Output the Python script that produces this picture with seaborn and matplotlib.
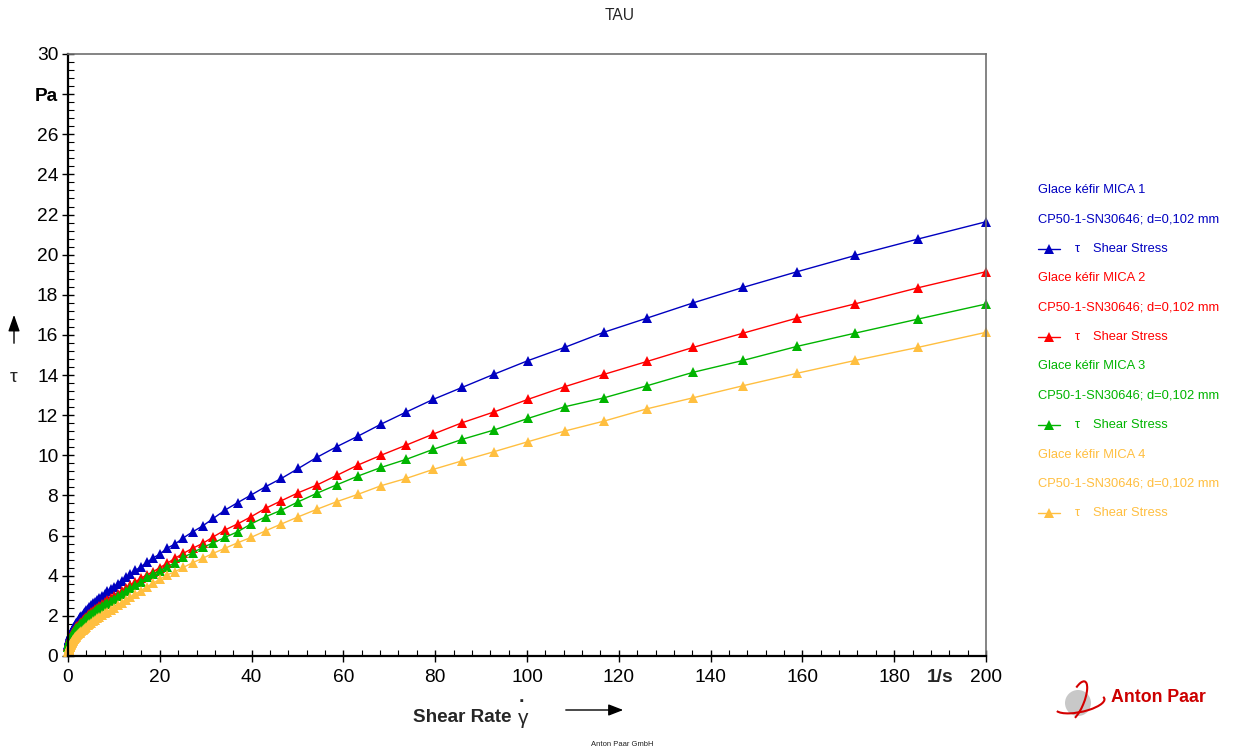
import numpy as np
import pandas as pd
import matplotlib
matplotlib.use("Agg")
import matplotlib.pyplot as plt
import seaborn as sns
from matplotlib.lines import Line2D
from matplotlib.patches import Circle, Arc, FancyArrowPatch

# shear rate [1/s]
shear_rate = [
    0.1, 0.108, 0.1166, 0.1259, 0.1359, 0.1468, 0.1585, 0.1712, 0.1848, 0.1996,
    0.2155, 0.2327, 0.2513, 0.2713, 0.293, 0.3164, 0.3416, 0.3689, 0.3983, 0.4301,
    0.4644, 0.5015, 0.5415, 0.5847, 0.6314, 0.6818, 0.7362, 0.795, 0.8584, 0.9268,
    1.0007, 1.0806, 1.1668, 1.2599, 1.3605, 1.4691, 1.5863, 1.7129, 1.8496, 1.9972,
    2.1565, 2.3286, 2.5144, 2.715, 2.9316, 3.1658, 3.4184, 3.6912, 3.9857, 4.3037,
    4.6471, 5.018, 5.4184, 5.8507, 6.3176, 6.8217, 7.3659, 7.9537, 8.5884, 9.2737,
    10.015, 10.814, 11.677, 12.608, 13.614, 14.7, 15.873, 17.14, 18.507, 19.984,
    21.579, 23.3, 25.16, 27.167, 29.335, 31.676, 34.203, 36.932, 39.879, 43.061,
    46.497, 50.207, 54.213, 58.538, 63.209, 68.253, 73.699, 79.579, 85.929, 92.786,
    100.22, 108.21, 116.84, 126.17, 136.23, 147.1, 158.84, 171.51, 185.19, 200.0,
]

# shear stress [Pa]
tau_mica1 = [
    .560, .575, .591, .607, .624, .641, .659, .677, .695, .714,
    .734, .754, .775, .796, .818, .840, .865, .890, .917, .944,
    .971, 1.000, 1.030, 1.060, 1.091, 1.124, 1.157, 1.191, 1.226, 1.263,
    1.300, 1.341, 1.382, 1.425, 1.470, 1.516, 1.563, 1.611, 1.662, 1.713,
    1.767, 1.822, 1.879, 1.937, 1.997, 2.060, 2.132, 2.207, 2.284, 2.364,
    2.446, 2.532, 2.620, 2.712, 2.807, 2.905, 3.007, 3.112, 3.221, 3.333,
    3.450, 3.600, 3.756, 3.918, 4.088, 4.265, 4.45, 4.66, 4.88, 5.08,
    5.37, 5.58, 5.89, 6.19, 6.48, 6.86, 7.27, 7.64, 8.02, 8.44,
    8.85, 9.35, 9.90, 10.43, 10.96, 11.56, 12.16, 12.79, 13.39, 14.04,
    14.72, 15.38, 16.14, 16.84, 17.60, 18.37, 19.15, 19.96, 20.78, 21.64,
]
tau_mica2 = [
    .480, .493, .507, .521, .535, .550, .565, .580, .596, .612,
    .629, .646, .664, .682, .701, .720, .742, .764, .786, .810,
    .834, .859, .885, .911, .938, .966, .995, 1.025, 1.056, 1.087,
    1.120, 1.155, 1.190, 1.227, 1.265, 1.304, 1.345, 1.386, 1.429, 1.474,
    1.519, 1.566, 1.615, 1.665, 1.716, 1.770, 1.832, 1.896, 1.963, 2.032,
    2.103, 2.177, 2.253, 2.332, 2.414, 2.499, 2.587, 2.678, 2.772, 2.869,
    2.970, 3.104, 3.244, 3.390, 3.543, 3.703, 3.87, 4.04, 4.20, 4.40,
    4.62, 4.87, 5.12, 5.37, 5.61, 5.94, 6.28, 6.58, 6.94, 7.36,
    7.74, 8.14, 8.52, 9.00, 9.52, 10.01, 10.51, 11.06, 11.63, 12.16,
    12.79, 13.42, 14.04, 14.68, 15.38, 16.09, 16.84, 17.55, 18.35, 19.15,
]
tau_mica3 = [
    .460, .473, .486, .500, .515, .529, .544, .560, .576, .592,
    .609, .626, .644, .662, .681, .700, .721, .742, .763, .786,
    .809, .832, .857, .882, .908, .934, .962, .990, 1.019, 1.049,
    1.080, 1.113, 1.147, 1.183, 1.219, 1.256, 1.295, 1.335, 1.376, 1.418,
    1.462, 1.507, 1.553, 1.601, 1.650, 1.700, 1.760, 1.821, 1.885, 1.951,
    2.020, 2.090, 2.164, 2.240, 2.318, 2.399, 2.484, 2.571, 2.661, 2.754,
    2.850, 2.977, 3.109, 3.247, 3.392, 3.542, 3.70, 3.92, 4.09, 4.25,
    4.45, 4.65, 4.92, 5.15, 5.41, 5.64, 5.91, 6.19, 6.58, 6.94,
    7.27, 7.69, 8.11, 8.53, 8.97, 9.40, 9.80, 10.30, 10.80, 11.26,
    11.84, 12.42, 12.87, 13.47, 14.14, 14.73, 15.43, 16.09, 16.79, 17.54,
]
tau_mica4 = [
    .220, .230, .240, .250, .261, .273, .285, .297, .310, .324,
    .338, .353, .368, .385, .402, .420, .437, .454, .472, .490,
    .510, .530, .551, .572, .595, .618, .643, .668, .694, .722,
    .750, .778, .807, .837, .869, .901, .935, .970, 1.006, 1.044,
    1.083, 1.123, 1.165, 1.209, 1.254, 1.300, 1.354, 1.411, 1.470, 1.531,
    1.595, 1.661, 1.731, 1.803, 1.878, 1.957, 2.038, 2.123, 2.212, 2.304,
    2.400, 2.524, 2.655, 2.793, 2.938, 3.090, 3.25, 3.45, 3.62, 3.82,
    4.04, 4.20, 4.42, 4.65, 4.87, 5.12, 5.37, 5.64, 5.91, 6.24,
    6.58, 6.94, 7.31, 7.69, 8.06, 8.49, 8.85, 9.30, 9.73, 10.18,
    10.68, 11.21, 11.71, 12.32, 12.87, 13.47, 14.09, 14.73, 15.38, 16.13,
]

samples = ["Glace kéfir MICA 1", "Glace kéfir MICA 2", "Glace kéfir MICA 3", "Glace kéfir MICA 4"]
series = [tau_mica1, tau_mica2, tau_mica3, tau_mica4]
colors = ["#0000C0", "#FF0000", "#00B400", "#FFBF40"]
geometry = "CP50-1-SN30646; d=0,102 mm"

x_ticks = list(range(0, 201, 20))
y_ticks = list(range(0, 31, 2))

df = pd.concat(
    [pd.DataFrame({"rate": shear_rate, "tau": s, "sample": name}) for name, s in zip(samples, series)],
    ignore_index=True,
)

sns.set_style("white")
plt.rcParams["font.family"] = ["Liberation Sans", "DejaVu Sans"]

W, H = 1234, 751
fig = plt.figure(figsize=(W / 100, H / 100), dpi=100)


def fx(px):
    return px / W


def fy(py):
    return 1 - py / H


ax = fig.add_axes([fx(68), fy(656), fx(986) - fx(68), fy(54) - fy(656)])

sns.lineplot(
    data=df, x="rate", y="tau", hue="sample", palette=dict(zip(samples, colors)),
    estimator=None, sort=False, legend=False, ax=ax,
    marker="^", markersize=6.8, markeredgewidth=0, linewidth=1.0, clip_on=False,
)

ax.set_xlim(0, 200)
ax.set_ylim(0, 30)
ax.set_xlabel("")
ax.set_ylabel("")

ax.set_xticks(x_ticks)
ax.set_xticks(np.arange(0, 201, 4), minor=True)
ax.set_yticks(y_ticks)
ax.set_yticks(np.arange(0, 30.01, 0.4), minor=True)
ax.set_xticklabels([str(v) for v in x_ticks], fontsize=13.8)
ax.set_yticklabels(["Pa" if v == 28 else str(v) for v in y_ticks], fontsize=13.8)
for lab in ax.get_yticklabels():
    if lab.get_text() == "Pa":
        lab.set_fontweight("bold")

ax.tick_params(axis="both", which="both", left=True, bottom=True, top=False, right=False)
ax.tick_params(axis="both", which="major", direction="inout", length=8, width=1.0,
               color="black", labelcolor="black", pad=3)
ax.tick_params(axis="both", which="minor", direction="in", length=4, width=0.8, color="black")
ax.tick_params(axis="x", which="major", pad=5)

for side in ["left", "bottom"]:
    ax.spines[side].set_color("black")
    ax.spines[side].set_linewidth(1.6)
for side in ["top", "right"]:
    ax.spines[side].set_color("#707070")
    ax.spines[side].set_linewidth(1.2)

# unit label sitting in the x tick label row
ax.text(190, -0.035, "1/s", transform=ax.get_xaxis_transform(), fontsize=13.8,
        fontweight="bold", ha="center", va="center")

# title and axis captions
fig.text(fx(620), fy(16), "TAU", fontsize=11.2, ha="center", va="center")
fig.text(fx(413), fy(717), "Shear Rate", fontsize=13.6, fontweight="bold", ha="left", va="center")
fig.text(fx(523), fy(719), "γ", fontsize=15, ha="center", va="center")
fig.text(fx(522), fy(702), "·", fontsize=14, fontweight="bold", ha="center", va="center")
fig.patches.append(FancyArrowPatch((fx(563), fy(710)), (fx(626), fy(710)), transform=fig.transFigure,
                                   arrowstyle="-|>,head_length=9,head_width=3.5", color="black",
                                   linewidth=1.0, mutation_scale=1))
fig.text(fx(14), fy(377), "τ", fontsize=14, ha="center", va="center")
fig.patches.append(FancyArrowPatch((fx(14), fy(346)), (fx(14), fy(312)), transform=fig.transFigure,
                                   arrowstyle="-|>,head_length=10,head_width=3.5", color="black",
                                   linewidth=1.0, mutation_scale=1))

# legend block
row0, step = 190, 29.4
for k, (name, col) in enumerate(zip(samples, colors)):
    y1 = row0 + step * (3 * k)
    y2 = y1 + step
    y3 = y2 + step
    fig.text(fx(1038), fy(y1), name, color=col, fontsize=9.3, ha="left", va="center")
    fig.text(fx(1038), fy(y2), geometry, color=col, fontsize=9.3, ha="left", va="center")
    fig.add_artist(Line2D([fx(1038), fx(1060)], [fy(y3), fy(y3)], transform=fig.transFigure,
                          color=col, linewidth=1.0))
    fig.add_artist(Line2D([fx(1049)], [fy(y3)], transform=fig.transFigure, color=col,
                          marker="^", markersize=6.8, markeredgewidth=0, linestyle="none"))
    fig.text(fx(1077), fy(y3), "τ", color=col, fontsize=9.3, ha="center", va="center")
    fig.text(fx(1093), fy(y3), "Shear Stress", color=col, fontsize=9.3, ha="left", va="center")

# company logo
logo = fig.add_axes([fx(1050), fy(724), fx(1106) - fx(1050), fy(680) - fy(724)])
logo.set_xlim(-28, 28)
logo.set_ylim(-22, 22)
logo.set_aspect("equal")
logo.axis("off")
logo.add_patch(Circle((0, -1), 13, color="#C8C8C8", linewidth=0))
logo.add_patch(Arc((2, -2), 50, 16, angle=12, theta1=185, theta2=365, color="#D40000", linewidth=1.5))
logo.add_patch(Arc((-1, 1), 14, 42, angle=-22, theta1=-75, theta2=115, color="#D40000", linewidth=1.5))
fig.text(fx(1111), fy(697), "Anton Paar", color="#CC0000", fontsize=12.8, fontweight="bold",
         ha="left", va="center")

fig.text(fx(622), fy(745), "Anton Paar GmbH", fontsize=5.5, ha="center", va="center", color="#222222")

fig.savefig("out.png", dpi=100, facecolor="white")
